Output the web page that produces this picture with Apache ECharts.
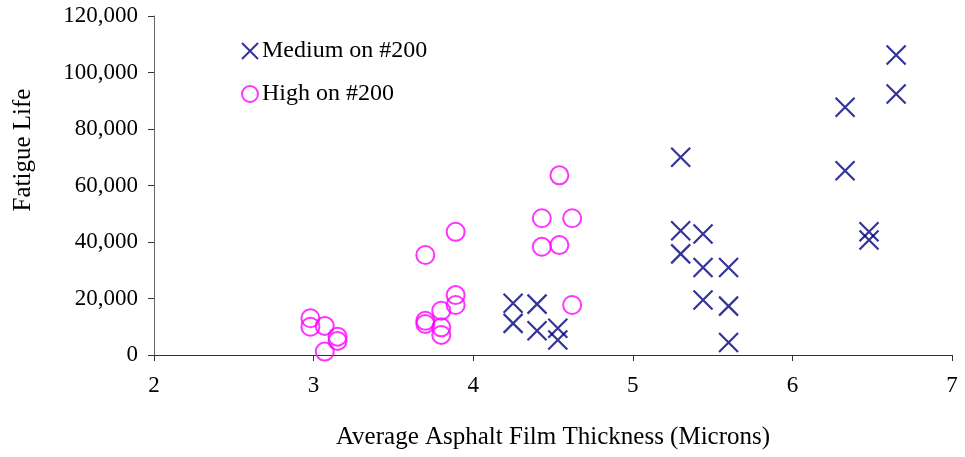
<!DOCTYPE html>
<html>
<head>
<meta charset="utf-8">
<script src="https://cdn.jsdelivr.net/npm/echarts@6/dist/echarts.min.js"></script>
<style>html,body{margin:0;padding:0;background:#fff}#c{width:965px;height:457px}</style>
</head>
<body>
<div id="c"></div>
<script>
const mediumX = [4.25, 4.25, 4.40, 4.40, 4.53, 4.53, 5.30, 5.30, 5.30, 5.44, 5.44, 5.44, 5.60, 5.60, 5.60, 6.33, 6.33, 6.48, 6.48, 6.65, 6.65];
const mediumY = [18300, 11200, 18000, 8600, 9500, 5300, 70000, 44000, 35800, 42800, 31000, 19500, 31000, 17300, 4400, 87700, 65200, 43600, 40700, 106200, 92400];
const highX = [2.98, 2.98, 3.07, 3.15, 3.15, 3.07, 3.70, 3.70, 3.70, 3.80, 3.80, 3.80, 3.89, 3.89, 3.89, 4.43, 4.43, 4.54, 4.54, 4.62, 4.62];
const highY = [13000, 10000, 10300, 6500, 5000, 1200, 35400, 12100, 11000, 15700, 9800, 7100, 43600, 21200, 17700, 48400, 38300, 63600, 38900, 48400, 17700];
const seriesNames = ['Medium on #200', 'High on #200'];
const xTicks = [2, 3, 4, 5, 6, 7];
const yTicks = [0, 20000, 40000, 60000, 80000, 100000, 120000];

const font = 'Liberation Serif';
const zip = (xs, ys) => xs.map((x, i) => [x, ys[i]]);
const chart = echarts.init(document.getElementById('c'), null, {renderer: 'canvas'});
chart.setOption({
  animation: false,
  backgroundColor: '#fff',
  textStyle: {fontFamily: font, color: '#000'},
  grid: {left: 154, right: 13, top: 16, bottom: 102},
  legend: {
    orient: 'vertical', left: 236, top: 34, itemGap: 19, itemWidth: 16, itemHeight: 16,
    textStyle: {fontFamily: font, fontSize: 24, color: '#000', padding: [0, 0, 0, -1]},
    data: seriesNames
  },
  xAxis: {
    type: 'value', min: xTicks[0], max: xTicks[xTicks.length - 1], interval: 1,
    name: 'Average Asphalt Film Thickness (Microns)', nameLocation: 'middle', nameGap: 70,
    nameTextStyle: {fontFamily: font, fontSize: 25, color: '#000'},
    axisLine: {lineStyle: {color: '#333', width: 1}},
    axisTick: {show: true, inside: false, length: 6, lineStyle: {color: '#333'}},
    axisLabel: {fontFamily: font, fontSize: 23, color: '#000', margin: 19},
    splitLine: {show: false}
  },
  yAxis: {
    type: 'value', min: yTicks[0], max: yTicks[yTicks.length - 1], interval: 20000,
    name: 'Fatigue Life', nameLocation: 'middle', nameGap: 118,
    nameTextStyle: {fontFamily: font, fontSize: 25, color: '#000', padding: [0, 0, 0, 71]},
    axisLine: {show: true, lineStyle: {color: '#666', width: 1}},
    axisTick: {show: true, inside: false, length: 6, lineStyle: {color: '#333'}},
    axisLabel: {fontFamily: font, fontSize: 23, color: '#000', margin: 16,
      formatter: v => v.toLocaleString('en-US')},
    splitLine: {show: false}
  },
  series: [
    {
      name: seriesNames[0], type: 'scatter', symbol: 'path://M0,0L10,10M10,0L0,10', symbolSize: 19,
      itemStyle: {color: 'rgba(0,0,0,0)', borderColor: '#000080', borderWidth: 2.2},
      data: zip(mediumX, mediumY)
    },
    {
      name: seriesNames[1], type: 'scatter', symbol: 'circle', symbolSize: 18,
      itemStyle: {color: 'rgba(0,0,0,0)', borderColor: '#FF00FF', borderWidth: 2},
      data: zip(highX, highY)
    }
  ]
});
</script>
</body>
</html>
